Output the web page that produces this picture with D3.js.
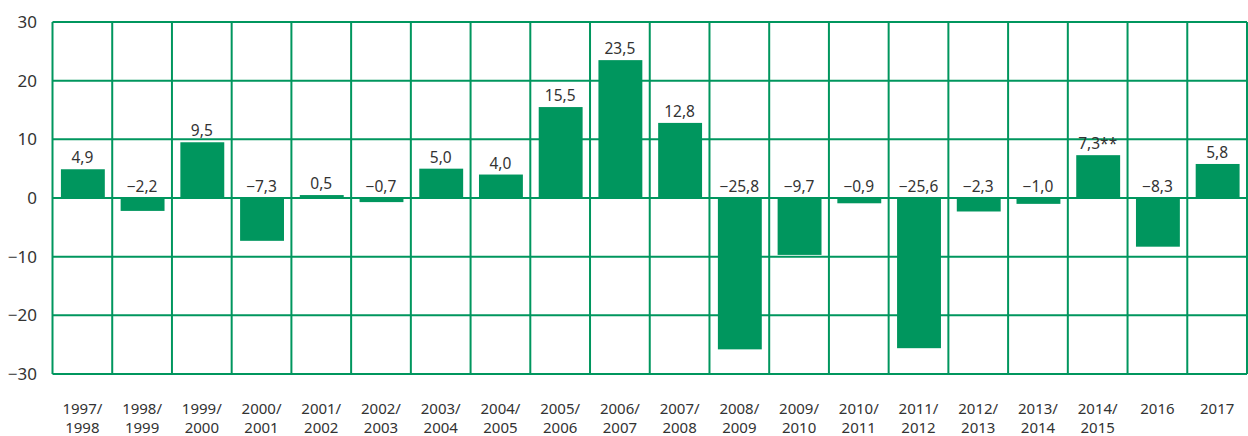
<!DOCTYPE html>
<html><head><meta charset="utf-8">
<script src="https://cdn.jsdelivr.net/npm/d3@7"></script>
<style>body{margin:0;background:#fff}svg{display:block}text{font-family:"Noto Sans",sans-serif;fill:#333}</style>
</head><body><svg id="c" width="1248" height="436"></svg>
<script>
const categories = ["1997/\n1998","1998/\n1999","1999/\n2000","2000/\n2001","2001/\n2002","2002/\n2003","2003/\n2004","2004/\n2005","2005/\n2006","2006/\n2007","2007/\n2008","2008/\n2009","2009/\n2010","2010/\n2011","2011/\n2012","2012/\n2013","2013/\n2014","2014/\n2015","2016","2017"];
const values = [4.9,-2.2,9.5,-7.3,0.5,-0.7,5.0,4.0,15.5,23.5,12.8,-25.8,-9.7,-0.9,-25.6,-2.3,-1.0,7.3,-8.3,5.8];
const labelSuffix = ["","","","","","","","","","","","","","","","","","**","",""];
const yTicks = [-30,-20,-10,0,10,20,30];
const green = "#00965e";
const svg = d3.select("#c");
const L=52.5,R=1247,T=22,B=374;
const x = d3.scaleBand().domain(d3.range(categories.length)).range([L,R]);
const y = d3.scaleLinear().domain([-30,30]).range([B,T]);
const fmt = v => (v<0?"\u2212":"") + Math.abs(v).toFixed(1).replace(".",",");
// grid
const g = svg.append("g");
g.selectAll("line.h").data(yTicks).join("line").attr("x1",L).attr("x2",R).attr("y1",d=>y(d)).attr("y2",d=>y(d)).attr("stroke",green).attr("stroke-width",2);
const vx = d3.range(categories.length+1).map(i=> i<categories.length? x(i): R);
g.selectAll("line.v").data(vx).join("line").attr("x1",d=>d).attr("x2",d=>d).attr("y1",T).attr("y2",B).attr("stroke",green).attr("stroke-width",2);
// y labels
svg.append("g").selectAll("text").data(yTicks).join("text").attr("x",37).attr("y",d=>y(d)).attr("dy","0.35em").attr("text-anchor","end").attr("font-size",17).text(d=>d<0?"\u2212"+Math.abs(d):d);
// bars
const bw = x.bandwidth()*0.735;
svg.append("g").selectAll("rect").data(values).join("rect")
 .attr("x",(d,i)=>x(i)+x.bandwidth()/2-bw/2+0.5).attr("width",bw)
 .attr("y",d=>y(Math.max(0,d))).attr("height",d=>Math.abs(y(d)-y(0))).attr("fill",green);
// value labels
svg.append("g").selectAll("text").data(values).join("text")
 .attr("x",(d,i)=>x(i)+x.bandwidth()/2).attr("y",d=>(d>0?y(d):y(0))-6)
 .attr("text-anchor","middle").attr("font-size",15.5).text((d,i)=>fmt(d)+labelSuffix[i]);
// category labels
const cl = svg.append("g").selectAll("text").data(categories).join("text")
 .attr("x",(d,i)=>x(i)+x.bandwidth()/2).attr("y",414).attr("text-anchor","middle").attr("font-size",15);
cl.each(function(d){const t=d3.select(this);d.split("\n").forEach((s,j)=>t.append("tspan").attr("x",t.attr("x")).attr("dy",j?19:0).text(s));});
</script></body></html>
